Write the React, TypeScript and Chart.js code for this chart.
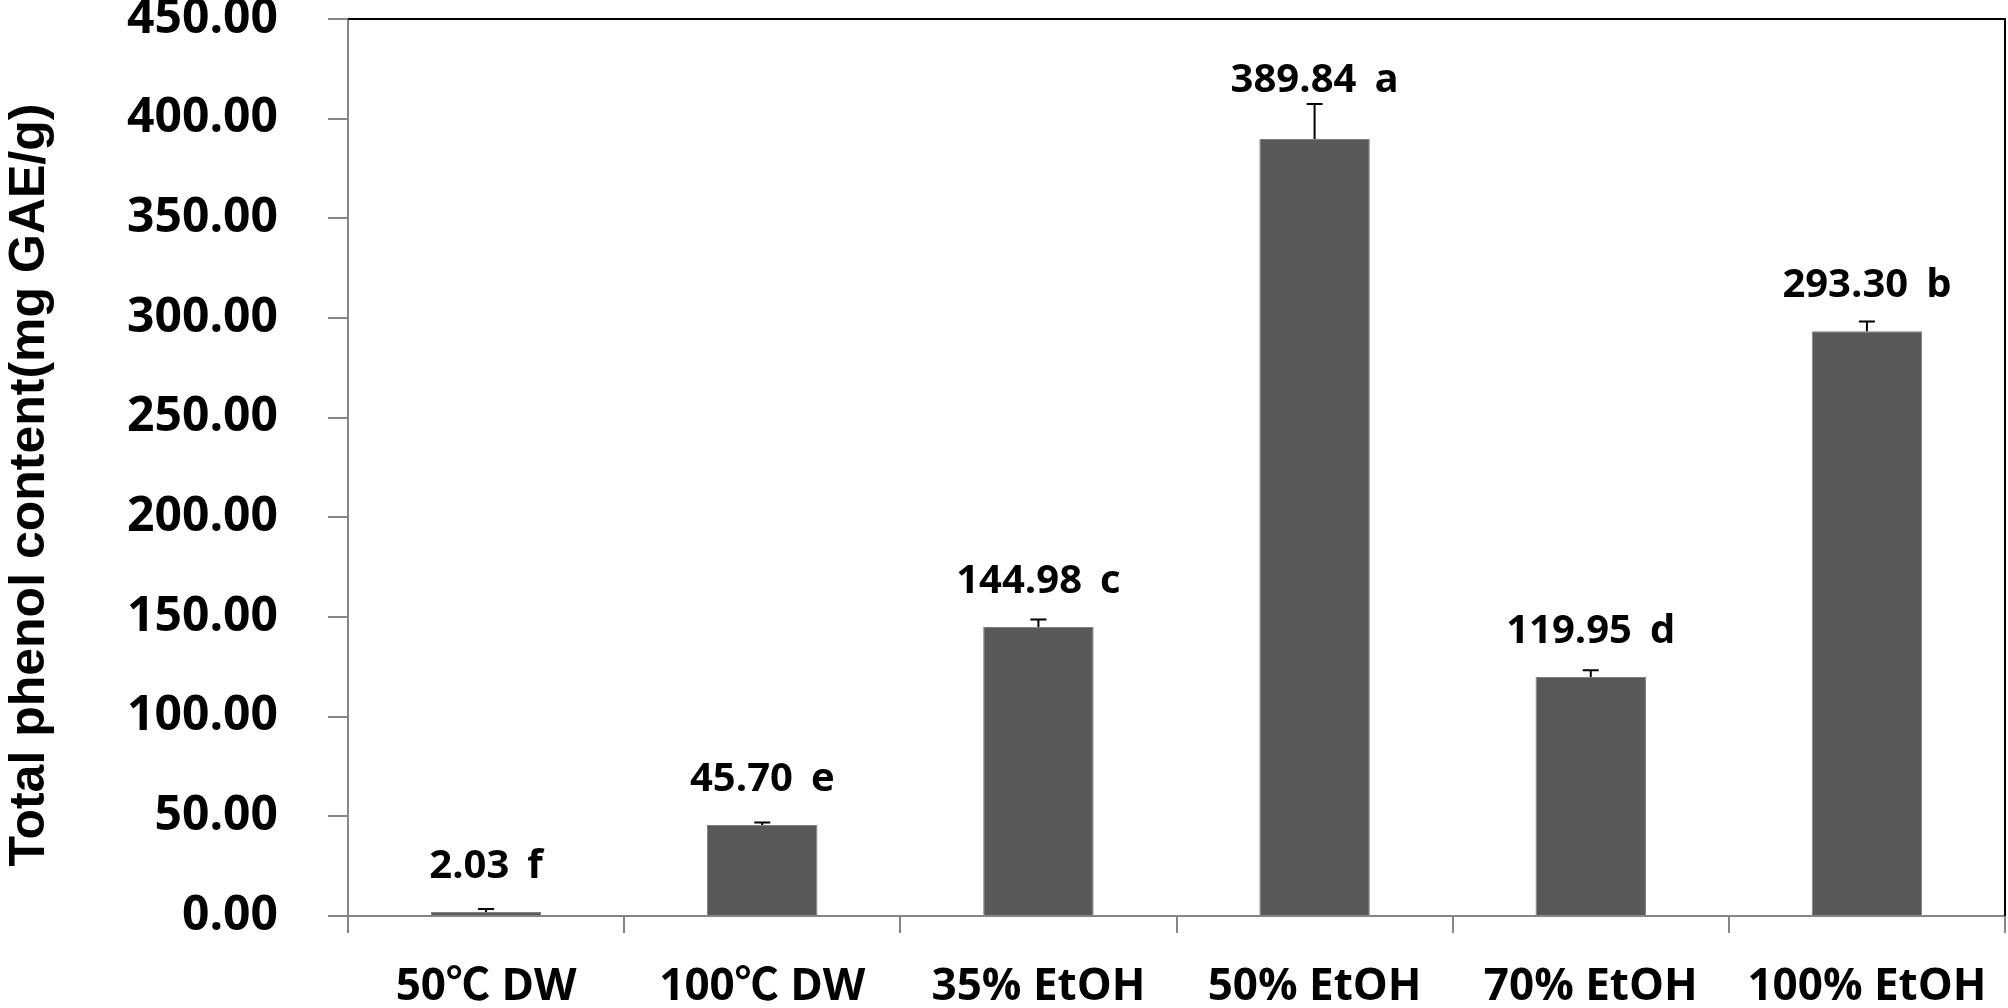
import React, { useEffect, useRef } from "react";
import { Chart, registerables } from "chart.js";

Chart.register(...registerables);

// ---- Data ----
const categories = ["50℃ DW", "100℃ DW", "35% EtOH", "50% EtOH", "70% EtOH", "100% EtOH"];
const means = [2.03, 45.7, 144.98, 389.84, 119.95, 293.3];
const errors = [1.5, 1.2, 3.8, 17.5, 3.3, 4.9];
const letters = ["f", "e", "c", "a", "d", "b"];
const yMin = 0;
const yMax = 450;
const yStep = 50;
const yTitle = "Total phenol content(mg GAE/g)";

const LABEL_FONT = '"Open Sans", "Noto Sans CJK KR", sans-serif';
const TITLE_FONT = '"Liberation Sans", Arial, sans-serif';

const overlayPlugin = {
  id: "overlay",
  afterDatasetsDraw(chart: any) {
    const { ctx, chartArea, scales } = chart;
    const x = scales.x;
    const y = scales.y;
    ctx.save();
    // top and right frame
    ctx.strokeStyle = "#000";
    ctx.lineWidth = 2;
    ctx.beginPath();
    ctx.moveTo(chartArea.left, chartArea.top);
    ctx.lineTo(chartArea.right, chartArea.top);
    ctx.lineTo(chartArea.right, chartArea.bottom);
    ctx.stroke();

    means.forEach((m, i) => {
      const cx = x.getPixelForValue(i);
      const yTop = y.getPixelForValue(m);
      const yCap = y.getPixelForValue(m + errors[i]);
      ctx.strokeStyle = "#000";
      ctx.lineWidth = 2;
      ctx.beginPath();
      ctx.moveTo(cx, yTop);
      ctx.lineTo(cx, yCap);
      ctx.moveTo(cx - 8, yCap);
      ctx.lineTo(cx + 8, yCap);
      ctx.stroke();

      ctx.font = `bold 40px ${LABEL_FONT}`;
      ctx.fillStyle = "#000";
      ctx.textBaseline = "alphabetic";
      ctx.textAlign = "left";
      const valText = m.toFixed(2);
      const letter = letters[i];
      const gap = 18;
      const w1 = ctx.measureText(valText).width;
      const w2 = ctx.measureText(letter).width;
      const startX = cx - (w1 + gap + w2) / 2;
      const baseY = Math.min(yTop - 34, yCap - 12);
      ctx.fillText(valText, startX, baseY);
      ctx.fillText(letter, startX + w1 + gap, baseY);
    });

    // y-axis title
    ctx.save();
    ctx.translate(30, 485);
    ctx.rotate(-Math.PI / 2);
    ctx.font = `bold 50px ${TITLE_FONT}`;
    ctx.fillStyle = "#000";
    ctx.textAlign = "center";
    ctx.textBaseline = "middle";
    ctx.fillText(yTitle, 0, 0);
    ctx.restore();

    ctx.restore();
  },
};

export default function App() {
  const canvasRef = useRef<HTMLCanvasElement | null>(null);

  useEffect(() => {
    if (!canvasRef.current) return;
    const chart = new Chart(canvasRef.current, {
      type: "bar",
      data: {
        labels: categories,
        datasets: [
          {
            data: means,
            backgroundColor: "#595959",
            borderColor: "#808080",
            borderWidth: 1,
            barPercentage: 0.4,
            categoryPercentage: 1,
          },
        ],
      },
      options: {
        responsive: false,
        devicePixelRatio: 1,
        animation: false,
        layout: { autoPadding: false, padding: { top: 19, right: 3, left: 0, bottom: 0 } },
        plugins: {
          legend: { display: false },
          tooltip: { enabled: false },
        },
        scales: {
          x: {
            type: "category",
            ticks: {
              font: { family: LABEL_FONT, weight: "bold", size: 44 },
              color: "#000",
              padding: 28,
              maxRotation: 0,
              autoSkip: false,
            },
            grid: {
              drawOnChartArea: false,
              drawTicks: true,
              tickLength: 17,
              color: "#868686",
              lineWidth: 2,
              offset: true,
            },
            border: { display: true, color: "#868686", width: 2 },
            afterFit: (s: any) => {
              s.height = 92;
              s.paddingLeft = 0;
              s.paddingRight = 0;
            },
          },
          y: {
            min: yMin,
            max: yMax,
            ticks: {
              stepSize: yStep,
              callback: (v: any) => Number(v).toFixed(2),
              font: { family: LABEL_FONT, weight: "bold", size: 48 },
              color: "#000",
              padding: 50,
            },
            grid: {
              drawOnChartArea: false,
              drawTicks: true,
              tickLength: 20,
              color: "#868686",
              lineWidth: 2,
            },
            border: { display: true, color: "#868686", width: 2 },
            title: { display: false, text: yTitle },
            afterFit: (s: any) => {
              s.width = 348;
              s.paddingTop = 0;
              s.paddingBottom = 0;
            },
          },
        },
      },
      plugins: [overlayPlugin],
    });
    return () => chart.destroy();
  }, []);

  return (
    <div style={{ position: "absolute", left: 0, top: 0, width: 2008, height: 1008, background: "#fff" }}>
      <canvas ref={canvasRef} width={2008} height={1008} style={{ display: "block", width: 2008, height: 1008 }} />
    </div>
  );
}
